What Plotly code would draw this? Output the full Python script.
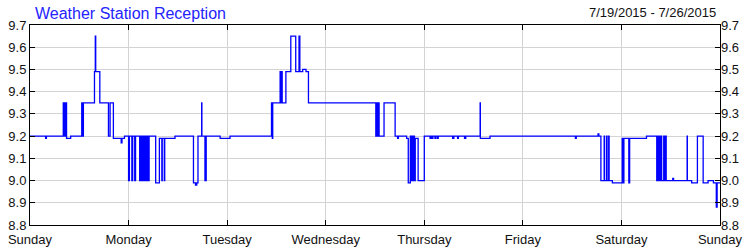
import pandas as pd
import plotly.graph_objects as go

# Hours since Sunday 7/19/2015 00:00, and signal level at that moment (step data)
hours = [
    0, 3.8, 4.0,
    8.1, 8.3, 8.4, 8.6, 8.7, 8.9, 9.9,
    12.6, 12.7, 13.0, 15.7, 15.9, 16.0, 17.0, 19.1, 19.5, 20.3, 22.2, 22.4, 23.0,
    24.0, 24.2, 24.8, 25.0, 25.5, 25.7, 26.7, 26.9, 27.2, 27.4, 27.6, 27.8, 28.0, 28.2, 28.4, 28.6, 28.8, 29.0,
    30.6, 31.5, 32.1, 32.2, 32.7, 32.8, 35.3, 39.8, 40.3, 40.6, 40.9, 41.8, 41.85, 42.6, 42.9, 46.3, 48.7,
    58.8, 59.0, 59.1, 60.9, 61.0, 61.1, 61.2, 61.3, 61.4, 62.3, 63.5, 64.7, 65.5, 65.7, 66.4, 67.2, 67.8,
    84.2, 84.4, 84.6, 84.8, 85.0, 86.2, 88.9, 89.5, 89.7,
    91.7, 92.1, 92.6, 92.7, 92.9, 93.0, 93.2, 93.3, 93.5, 93.6, 93.8, 94.5, 96.0,
    97.4, 97.6, 97.9, 98.1, 98.6, 98.8, 99.2, 99.4, 102.9, 103.2, 104.1, 104.3, 105.8, 106.1,
    109.6, 109.65, 112.0,
    132.8, 133.0, 138.3, 138.5,
    139.0, 139.8, 139.9, 140.4, 140.5, 140.9, 141.0, 141.8, 144.2, 144.4, 144.6, 145.8, 146.0, 150.1,
    152.6, 152.8, 153.0, 153.2, 153.4, 153.6, 153.8, 154.3, 154.5, 154.7, 154.9, 156.5, 156.7,
    159.4, 160.0, 160.05, 161.1, 162.5, 163.9, 165.1, 166.4, 167.1, 167.3, 168,
]
levels = [
    9.2, 9.19, 9.2,
    9.35, 9.2, 9.35, 9.2, 9.35, 9.19, 9.2,
    9.35, 9.2, 9.35, 9.49, 9.65, 9.49, 9.35, 9.2, 9.35, 9.19, 9.17, 9.19, 9.2,
    9.0, 9.2, 9.0, 9.2, 9.0, 9.2, 9.0, 9.2, 9.0, 9.2, 9.0, 9.2, 9.0, 9.2, 9.0, 9.2, 9.0, 9.2,
    8.99, 9.19, 9.0, 9.19, 9.0, 9.19, 9.2, 8.99, 8.98, 8.99, 9.2, 9.35, 9.2, 9.0, 9.2, 9.19, 9.2,
    9.35, 9.19, 9.35, 9.49, 9.35, 9.49, 9.35, 9.49, 9.35, 9.49, 9.65, 9.49, 9.65, 9.49, 9.5, 9.49, 9.35,
    9.2, 9.35, 9.2, 9.35, 9.2, 9.35, 9.2, 9.19, 9.2,
    9.19, 8.99, 9.2, 9.0, 9.2, 9.0, 9.2, 9.0, 9.2, 9.0, 9.19, 9.0, 9.2,
    9.19, 9.2, 9.19, 9.2, 9.19, 9.2, 9.19, 9.2, 9.19, 9.2, 9.19, 9.2, 9.19, 9.2,
    9.35, 9.19, 9.2,
    9.19, 9.2, 9.21, 9.2,
    9.0, 9.2, 9.0, 9.2, 9.0, 9.2, 9.0, 8.99, 9.19, 8.99, 9.19, 8.99, 9.19, 9.2,
    9.0, 9.2, 9.0, 9.2, 9.0, 9.2, 9.0, 9.2, 9.0, 9.2, 9.0, 9.01, 9.0,
    9.0, 9.2, 9.0, 8.99, 9.2, 8.99, 9.0, 8.99, 8.88, 8.99, 8.99,
]
start_date = "2015-07-19"
end_date = "2015-07-26"
title_text = "Weather Station Reception"
range_text = "7/19/2015 - 7/26/2015"
y_ticks = [8.8, 8.9, 9.0, 9.1, 9.2, 9.3, 9.4, 9.5, 9.6, 9.7]

times = pd.Timestamp(start_date) + pd.to_timedelta(hours, unit="h")

fig = go.Figure()
fig.add_trace(go.Scatter(x=times, y=levels, mode="lines", line=dict(color="#0000ff", width=1.3, shape="hv"),
                         showlegend=False, hoverinfo="skip"))
fig.add_trace(go.Scatter(x=[None], y=[None], yaxis="y2", mode="lines", showlegend=False, hoverinfo="skip"))

font_family = "Liberation Sans, Arial, sans-serif"
tick_font = dict(family=font_family, size=13, color="#111111")

fig.update_layout(
    width=750, height=250,
    margin=dict(l=30, r=30, t=25, b=25),
    plot_bgcolor="white", paper_bgcolor="white",
    xaxis=dict(
        type="date", range=[start_date, end_date],
        tickformat="%A", dtick=86400000, tick0=start_date,
        showgrid=True, gridcolor="#d3d3d3", gridwidth=1,
        showline=True, linecolor="black", linewidth=1, mirror="ticks",
        ticks="inside", ticklen=5, tickcolor="black",
        tickfont=tick_font, zeroline=False, ticklabelstandoff=2, automargin=False,
    ),
    yaxis=dict(
        range=[8.8, 9.7], tickvals=y_ticks, ticktext=[f"{v:.1f}" for v in y_ticks],
        showgrid=True, gridcolor="#d3d3d3", gridwidth=1,
        showline=True, linecolor="black", linewidth=1, mirror="ticks",
        ticks="inside", ticklen=5, tickcolor="black",
        tickfont=tick_font, zeroline=False, automargin=False,
    ),
    yaxis2=dict(
        range=[8.8, 9.7], tickvals=y_ticks, ticktext=[f"{v:.1f}" for v in y_ticks],
        overlaying="y", side="right", showgrid=False, showline=False,
        ticks="", tickfont=tick_font, zeroline=False, automargin=False,
    ),
    annotations=[
        dict(text=title_text, xref="paper", yref="paper", x=0, y=1, xanchor="left", yanchor="bottom",
             xshift=3, yshift=1, showarrow=False,
             font=dict(family=font_family, size=16, color="#2424ff")),
        dict(text=range_text, xref="paper", yref="paper", x=1, y=1, xanchor="right", yanchor="bottom",
             xshift=-2, yshift=3, showarrow=False,
             font=dict(family=font_family, size=13, color="#111111")),
    ],
)

fig.write_html("out.html")
